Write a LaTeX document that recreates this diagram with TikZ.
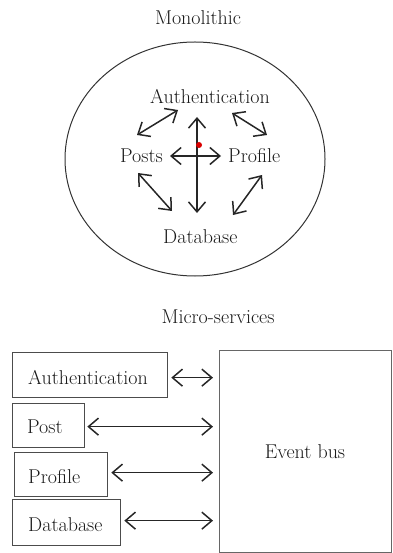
\documentclass[tikz,border=0pt]{standalone}
\usetikzlibrary{arrows.meta,shapes.geometric}
\begin{document}
\begin{tikzpicture}[x=1pt,y=-1pt,
  lbl/.style={inner sep=0pt, text height=14pt, text depth=4pt, font=\fontsize{20}{24}\selectfont, text=black!90},
  barb/.tip={Straight Barb[length=10pt,width=17pt,line width=1.5pt]},
  dbl/.style={barb-barb, line width=1.5pt, black!85},
  svcbox/.style={draw=black!70, line width=1.3pt, inner sep=0pt},
]
\useasboundingbox (0,0) rectangle (392,553);

% ---------- Monolithic ----------
\node[lbl, anchor=base] (mono) at (198,25) {Monolithic};
\node[draw=black!80, line width=1pt, ellipse, minimum width=260pt, minimum height=234pt, inner sep=0pt] (shell) at (195,159) {};

\node[lbl, anchor=base west] (auth) at (150,104) {Authentication};
\node[lbl, anchor=base west] (posts) at (120,163) {Posts};
\node[lbl, anchor=base west] (profile) at (228,163) {Profile};
\node[lbl, anchor=base west] (db) at (163,243) {Database};

\draw[dbl] ([shift={(28,6)}]auth.base west) -- ([shift={(17,-28)}]posts.base west);
\draw[dbl] ([shift={(82,9)}]auth.base west) -- ([shift={(39,-28)}]profile.base west);
\draw[dbl] ([shift={(47,13)}]auth.base west) -- ([shift={(34,-30)}]db.base west);
\draw[dbl] ([shift={(50,-7)}]posts.base west) -- ([shift={(-7,-7)}]profile.base west);
\draw[dbl] ([shift={(18,10)}]posts.base west) -- ([shift={(9,-32)}]db.base west);
\draw[dbl] ([shift={(34,12)}]profile.base west) -- ([shift={(70,-28)}]db.base west);

\node[circle, fill=red!85!black, inner sep=0pt, minimum size=6pt] (dot) at (199,145) {};

% ---------- Micro-services ----------
\node[lbl, anchor=base] (micro) at (218,323) {Micro-services};

\node[svcbox, draw=black!60, line width=1pt, anchor=north west, minimum width=172pt, minimum height=202pt] (bus) at (219,350) {};
\node[lbl, anchor=base] (bustext) at (305,458) {Event bus};

\node[svcbox, anchor=north west, minimum width=155pt, minimum height=45pt] (authbox) at (12,352) {};
\node[lbl, anchor=base west] (authtext) at (28,384) {Authentication};

\node[svcbox, anchor=north west, minimum width=72pt, minimum height=44pt] (postbox) at (12,403) {};
\node[lbl, anchor=base west] (posttext) at (27,433) {Post};

\node[svcbox, anchor=north west, minimum width=93pt, minimum height=44pt] (profbox) at (14,452) {};
\node[lbl, anchor=base west] (proftext) at (28,483) {Profile};

\node[svcbox, anchor=north west, minimum width=108pt, minimum height=46pt] (dbbox) at (12,499) {};
\node[lbl, anchor=base west] (dbtext) at (28,531) {Database};

\draw[dbl, shorten <=3pt, shorten >=6pt] ([yshift=-2.5pt]authbox.east) -- ([yshift=-2.5pt]authbox.east -| bus.west);
\draw[dbl, shorten <=2pt, shorten >=6pt] ([yshift=-1pt]postbox.east) -- ([yshift=-1pt]postbox.east -| bus.west);
\draw[dbl, shorten <=3pt, shorten >=6pt] ([yshift=2pt]profbox.east) -- ([yshift=2pt]profbox.east -| bus.west);
\draw[dbl, shorten <=3pt, shorten >=6pt] ([yshift=2pt]dbbox.east) -- ([yshift=2pt]dbbox.east -| bus.west);
\end{tikzpicture}
\end{document}
